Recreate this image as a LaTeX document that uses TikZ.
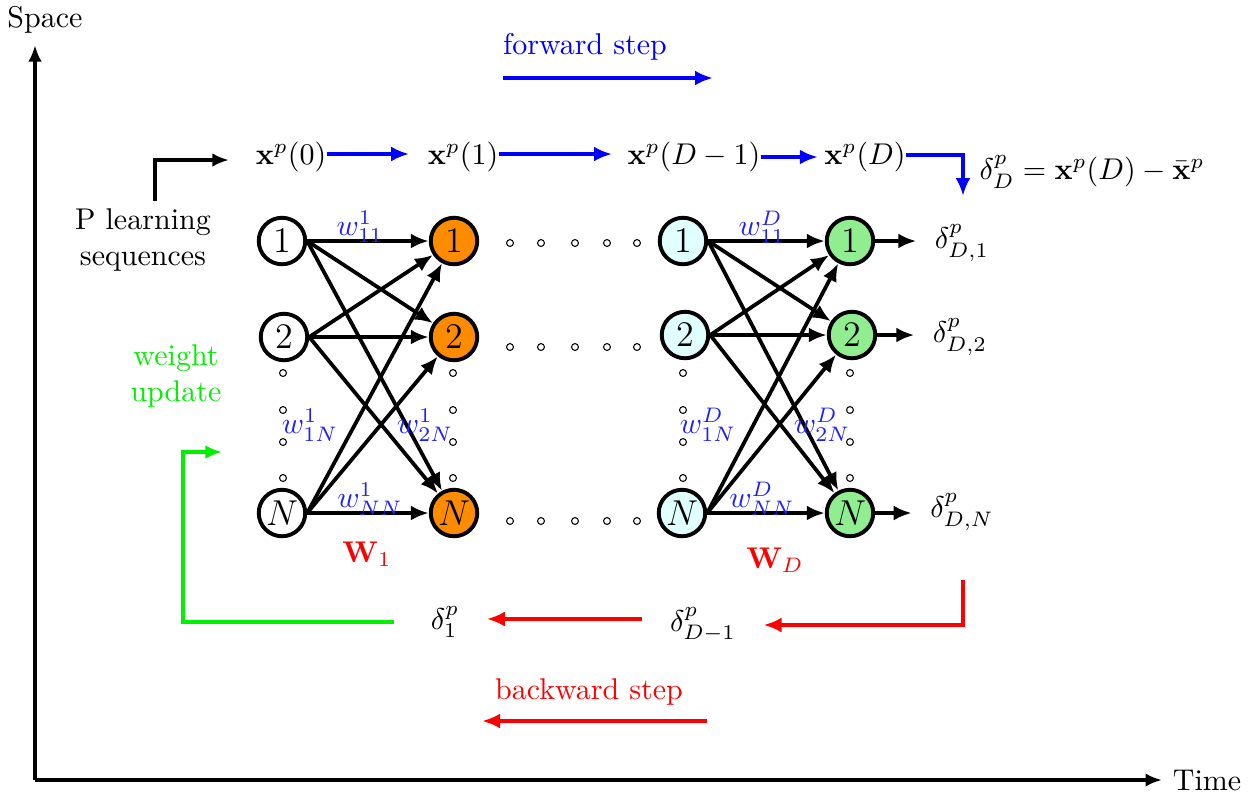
\documentclass[tikz,border=0pt]{standalone}
\usepackage{amsmath}
\usetikzlibrary{arrows.meta}
\definecolor{nodeorange}{RGB}{255,140,0}
\definecolor{nodecyan}{RGB}{224,255,255}
\definecolor{nodegreen}{RGB}{144,238,144}
\definecolor{wblue}{RGB}{30,30,255}
\definecolor{updgreen}{RGB}{0,240,0}
\begin{document}
\begin{tikzpicture}[x=0.3333pt,y=-0.3333pt,
  neuron/.style={circle,draw,line width=1.3pt,minimum size=15.5pt,inner sep=0pt,font=\large},
  sdot/.style={circle,draw,line width=0.35pt,minimum size=2.3pt,inner sep=0pt},
  conn/.style={line width=1.25pt,-{Latex[length=6pt,width=5pt]}},
  fwd/.style={blue,line width=1.6pt,-{Latex[length=6pt,width=5pt]}},
  bwd/.style={red,line width=1.5pt,-{Latex[length=6pt,width=5pt]}},
  upd/.style={updgreen,line width=1.3pt,-{Latex[length=5.5pt,width=4.5pt]}},
  txt/.style={inner sep=0pt},
  wl/.style={inner sep=0pt,text=wblue}]
\useasboundingbox (0,0) rectangle (1255,792);

% axes
\coordinate (O) at (35,780);
\coordinate (ytop) at (35,45);
\coordinate (xend) at (1162,780);
\draw[line width=1.2pt,-{Latex[length=5.5pt,width=4.5pt]}] (O) -- (ytop);
\draw[line width=1.2pt,-{Latex[length=5.5pt,width=4.5pt]}] (O) -- (xend);
\node[txt] (space) at (45,20) {Space};
\node[txt] (time) at (1207,780) {Time};

% forward step
\node[txt,text=blue] (fs) at (585,47) {forward step};
\coordinate (fa) at (503,78);
\coordinate (fb) at (713,78);
\draw[fwd] (fa) -- (fb);

% top row
\node[txt] (x0) at (291,157) {$\mathbf{x}^p(0)$};
\node[txt] (x1) at (463,157) {$\mathbf{x}^p(1)$};
\node[txt] (x2) at (694,157) {$\mathbf{x}^p(D-1)$};
\node[txt] (xD) at (865,157) {$\mathbf{x}^p(D)$};
\node[txt] (dD) at (1092,172) {$\delta_D^p = \mathbf{x}^p(D) - \bar{\mathbf{x}}^p$};
\draw[fwd,shorten >=6pt] ([yshift=1pt]x0.east) -- ([yshift=1pt]x1.west);
\draw[fwd,shorten >=5pt] ([yshift=1pt]x1.east) -- ([yshift=1pt]x2.west);
\draw[fwd,shorten >=2pt] (x2.east) -- (xD.west);
\coordinate (cD) at (963,196);
\draw[fwd] ([yshift=0.7pt]xD.east) -| (cD);

% P learning sequences
\node[txt,align=center] (pls) at (143,240) {P learning\\sequences};
\coordinate (pa) at (155,201);
\coordinate (pb) at (229,160);
\draw[line width=1.2pt,-{Latex[length=5.5pt,width=4.5pt]}] (pa) |- (pb);

% layer 1
\node[neuron,fill=white] (a1) at (282,241) {1};
\node[neuron,fill=white] (a2) at (284,337) {2};
\node[neuron,fill=white] (aN) at (282,513) {$N$};
\node[neuron,fill=nodeorange] (b1) at (454,241) {1};
\node[neuron,fill=nodeorange] (b2) at (454,337) {2};
\node[neuron,fill=nodeorange] (bN) at (454,513) {$N$};
% layer D
\node[neuron,fill=nodecyan] (c1) at (683,241) {1};
\node[neuron,fill=nodecyan] (c2) at (685,335) {2};
\node[neuron,fill=nodecyan] (cN) at (682,513) {$N$};
\node[neuron,fill=nodegreen] (e1) at (850,241) {1};
\node[neuron,fill=nodegreen] (e2) at (852,335) {2};
\node[neuron,fill=nodegreen] (eN) at (850,513) {$N$};

% vertical dots
\foreach \y [count=\i] in {373,410,442,478}{
  \node[sdot] (va\i) at (283,\y) {};
  \node[sdot] (vb\i) at (453,\y) {};
  \node[sdot] (vc\i) at (683,\y) {};
  \node[sdot] (ve\i) at (850,\y) {};
}
% horizontal dots
\foreach \x [count=\i] in {510,541,575,607,637}{
  \node[sdot] (h1\i) at (\x,243) {};
  \node[sdot] (h2\i) at (\x,347) {};
  \node[sdot] (h3\i) at (\x,521) {};
}

% connections
\foreach \s in {a1,a2,aN}{
  \foreach \t in {b1,b2,bN}{
    \draw[conn] (\s.east) -- (\t);
  }
}
\foreach \s in {c1,c2,cN}{
  \foreach \t in {e1,e2,eN}{
    \draw[conn] (\s.east) -- (\t);
  }
}

% weight labels
\node[wl] (w11a) at (360,227) {$w_{11}^1$};
\node[wl] (w1Na) at (310,425) {$w_{1N}^1$};
\node[wl] (w2Na) at (425,425) {$w_{2N}^1$};
\node[wl] (wNNa) at (370,499) {$w_{NN}^1$};
\node[txt,text=red] (W1) at (367,554) {$\mathbf{W}_1$};
\node[wl] (w11d) at (762,227) {$w_{11}^D$};
\node[wl] (w1Nd) at (708,425) {$w_{1N}^D$};
\node[wl] (w2Nd) at (822,425) {$w_{2N}^D$};
\node[wl] (wNNd) at (762,499) {$w_{NN}^D$};
\node[txt,text=red] (WD) at (775,560) {$\mathbf{W}_D$};

% outputs
\node[txt] (o1) at (962,243) {$\delta_{D,1}^p$};
\node[txt] (o2) at (960,337) {$\delta_{D,2}^p$};
\node[txt] (oN) at (962,512) {$\delta_{D,N}^p$};
\draw[conn,shorten >=6pt] (e1.east) -- (o1.west |- e1.east);
\draw[conn,shorten >=6pt] (e2.east) -- (o2.west |- e2.east);
\draw[conn,shorten >=6pt] (eN.east) -- (oN.west |- eN.east);

% backward row
\node[txt] (dDm) at (703,625) {$\delta_{D-1}^p$};
\node[txt] (d1) at (445,622) {$\delta_1^p$};
\coordinate (ra) at (963,580);
\draw[bwd,shorten >=9pt] (ra) |- (dDm.east);
\draw[bwd,shorten <=9pt,shorten >=9pt] ([yshift=2pt]dDm.west) -- ([yshift=2pt]d1.east |- dDm.west);

% weight update
\node[txt,text=updgreen,align=center] (wu) at (176,376) {weight\\update};
\coordinate (ua) at (183,452);
\coordinate (ub) at (222,452);
\draw[upd,shorten <=12pt] (d1.west) -| (ua) -- (ub);

% backward step
\node[txt,text=red] (bs) at (589,692) {backward step};
\coordinate (ba) at (707,721);
\coordinate (bb) at (482,721);
\draw[bwd] (ba) -- (bb);
\end{tikzpicture}
\end{document}
